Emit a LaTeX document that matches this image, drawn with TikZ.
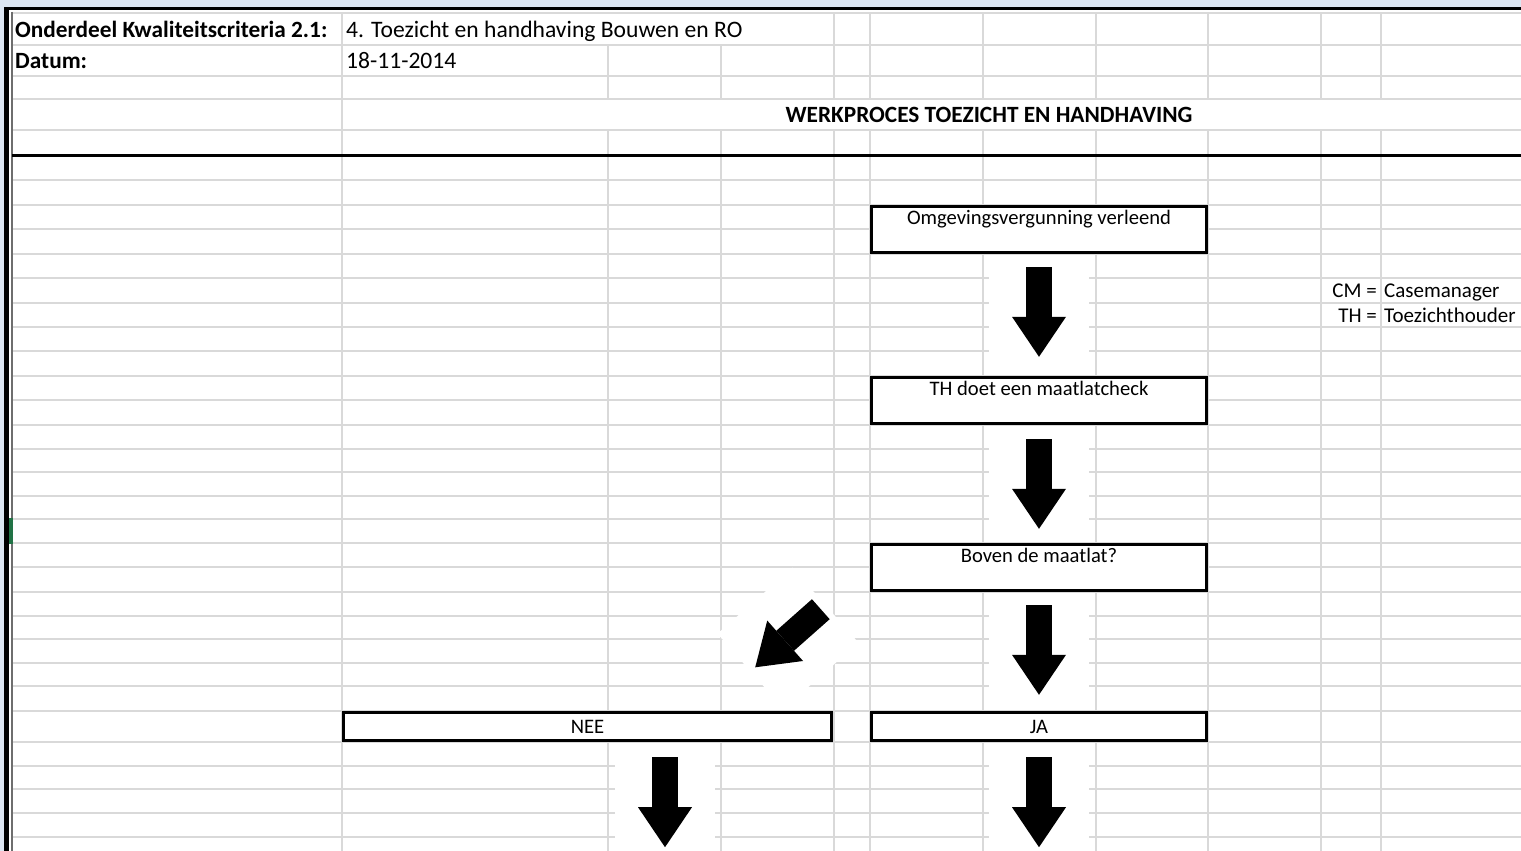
\documentclass[tikz,border=0pt]{standalone}
\usepackage{fontspec}
\setmainfont{Carlito}
\usetikzlibrary{arrows.meta,calc}

\definecolor{gridgray}{HTML}{D9D9D9}
\definecolor{framebg}{HTML}{DCE6F2}
\definecolor{rowmark}{HTML}{217346}
\definecolor{edgegray}{HTML}{6E6E6E}

\tikzset{
  gridrule/.style={draw=gridgray, line width=1.1pt},
  cell/.style={font=\fontsize{23.6}{28}\selectfont, inner sep=0pt, anchor=base west},
  cellbold/.style={cell, font=\fontsize{23.3}{28}\selectfont\bfseries},
  legend/.style={font=\fontsize{21}{25}\selectfont, inner sep=0pt},
  stepbox/.style={draw=black, line width=2.9pt, fill=white, minimum width=335.5pt,
                  minimum height=46.5pt, inner sep=0pt},
  answerbox/.style={stepbox, minimum height=28.5pt},
  boxtext/.style={font=\fontsize{20.6}{24}\selectfont, inner sep=0pt, anchor=base},
  arrowbg/.style={fill=white, draw=none, minimum size=100pt, inner sep=0pt},
  blockarrow/.style={draw=black, line width=26.7pt,
                     -{Triangle[length=40pt,width=54pt,line width=0pt]}},
}

\begin{document}
\begin{tikzpicture}[x=1pt,y=-1pt]
\useasboundingbox (0,0) rectangle (1521,851);
\fill[white] (0,0) rectangle (1521,851);

% window frame
\fill[framebg] (0,0) rectangle (1521,7);
\fill[framebg] (0,0) rectangle (4,851);

% sheet grid: rows
\foreach \y in {13,45,76,99,130}
  \draw[gridrule] (12,\y) -- (1521,\y);
\foreach \y in {180,205,229,254,278,303,327,351,376,400,425,449,472,496,519,543,567,592,616,639,663,686,711,742,766,789,813,837}
  \draw[gridrule] (12,\y) -- (1521,\y);

% sheet grid: columns
\foreach \x in {342,834,870,983,1096,1208,1321,1381}
  \draw[gridrule] (\x,13) -- (\x,45);
\foreach \x in {342,608,721,834,870,983,1096,1208,1321,1381}
  \draw[gridrule] (\x,45) -- (\x,99);
\draw[gridrule] (342,99) -- (342,130);
\foreach \x in {342,608,721,834,870,983,1096,1208,1321,1381}
  \draw[gridrule] (\x,130) -- (\x,851);

% borders
\fill[black] (4,7) rectangle (1521,10);
\fill[black] (4,7) rectangle (9,851);
\draw[edgegray, line width=2pt] (12,12) -- (12,851);
\fill[rowmark] (9,518) rectangle (13,544);
\draw[black, line width=3.3pt] (12,155.5) -- (1521,155.5);

% header cells
\node[cellbold] (crit) at (15,37.5) {Onderdeel Kwaliteitscriteria 2.1:};
\node[cell] (critv) at (346,37.5) {4. Toezicht en handhaving Bouwen en RO};
\node[cellbold] (date) at (15,68.5) {Datum:};
\node[cell] (datev) at (346,68.5) {18-11-2014};
\node[cellbold, anchor=base] (title) at (989,122.5) {WERKPROCES TOEZICHT EN HANDHAVING};

% legend
\node[legend, anchor=base east] (cmkey) at (1377,297.5) {CM =};
\node[legend, anchor=base west] (cmval) at (1384,297.5) {Casemanager};
\node[legend, anchor=base east] (thkey) at (1377,322) {TH =};
\node[legend, anchor=base west] (thval) at (1384,322) {Toezichthouder};

% process steps
\node[stepbox] (omg) at (1039,229.5) {};
\node[boxtext] (omgt) at ($(omg.north)+(0,20)$) {Omgevingsvergunning verleend};
\node[stepbox] (check) at (1039,400.5) {};
\node[boxtext] (checkt) at ($(check.north)+(0,20)$) {TH doet een maatlatcheck};
\node[stepbox] (boven) at (1039,567.5) {};
\node[boxtext] (bovent) at ($(boven.north)+(0,20)$) {Boven de maatlat?};
\node[answerbox, minimum width=488.5pt] (nee) at (587.5,726.5) {};
\node[boxtext] (neet) at ($(nee.center)+(0,7)$) {NEE};
\node[answerbox] (ja) at (1039,726.5) {};
\node[boxtext] (jat) at ($(ja.center)+(0,7)$) {JA};

% arrow end points
\coordinate (a1s) at ([yshift=-13pt]omg.south);
\coordinate (a1e) at ([yshift=19pt]check.north);
\coordinate (a2s) at ([yshift=-14pt]check.south);
\coordinate (a2e) at ([yshift=14pt]boven.north);
\coordinate (a3s) at ([yshift=-13pt]boven.south);
\coordinate (a3e) at ([yshift=16pt]ja.north);
\coordinate (a4s) at ([yshift=-15pt]ja.south);
\coordinate (a4e) at ([yshift=-105pt]ja.south);
\coordinate (a5s) at ([shift={(77.5pt,-15pt)}]nee.south);
\coordinate (a5e) at ([shift={(77.5pt,-105pt)}]nee.south);
\coordinate (dS) at ([shift={(-49pt,-17pt)}]boven.south west);
\coordinate (dE) at ([shift={(-78pt,43.5pt)}]nee.north east);

% white grounds behind the arrows
\node[arrowbg] (bg1) at ($(a1s)!0.5!(a1e)$) {};
\node[arrowbg] (bg2) at ($(a2s)!0.5!(a2e)$) {};
\node[arrowbg] (bg3) at ($(a3s)!0.5!(a3e)$) {};
\node[arrowbg] (bg4) at ($(a4s)!0.5!(a4e)$) {};
\node[arrowbg] (bg5) at ($(a5s)!0.5!(a5e)$) {};
\node[arrowbg, rotate=41.3] (bgd) at ($(dS)!0.5!(dE)$) {};

% block arrows
\draw[blockarrow] (a1s) -- (a1e);
\draw[blockarrow] (a2s) -- (a2e);
\draw[blockarrow] (a3s) -- (a3e);
\draw[blockarrow] (a4s) -- (a4e);
\draw[blockarrow] (a5s) -- (a5e);
\draw[blockarrow] (dS) -- (dE);
\end{tikzpicture}
\end{document}
